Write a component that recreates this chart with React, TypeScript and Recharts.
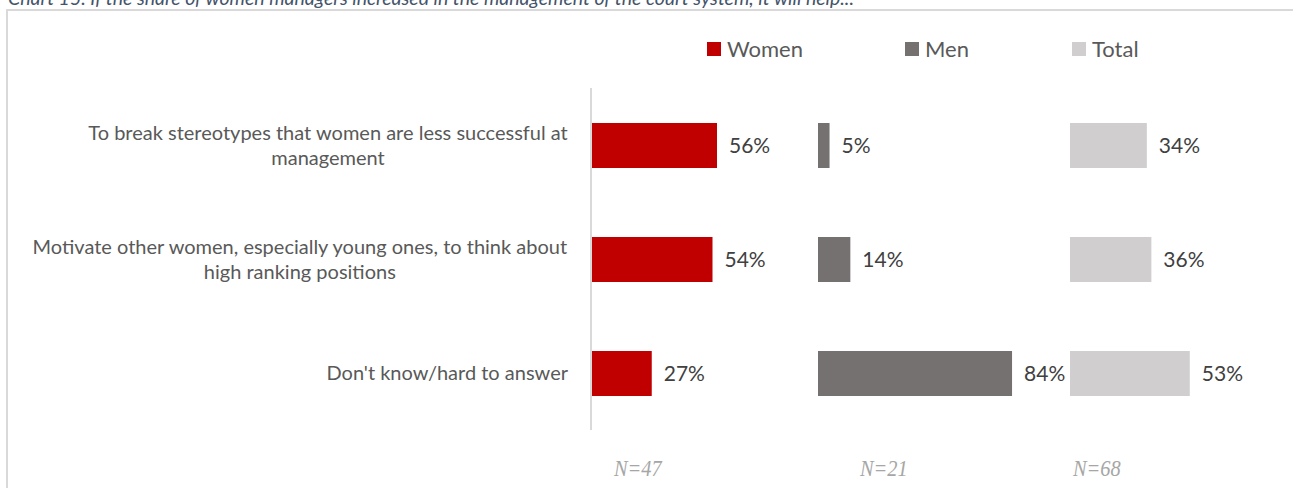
import { Bar, BarChart, LabelList, XAxis, YAxis } from 'recharts';

const W = 1293;
const H = 488;

// categories, wrapped the way the original labels wrap
const categories = [
  'To break stereotypes that women are less successful at\nmanagement',
  'Motivate other women, especially young ones, to think about\nhigh ranking positions',
  "Don't know/hard to answer",
];
const women = [56, 54, 27];
const men = [5, 14, 84];
const total = [34, 36, 53];
const seriesNames = ['Women', 'Men', 'Total'];
const sampleSizes = ['N=47', 'N=21', 'N=68'];

const COLORS = ['#C00000', '#767171', '#D0CECE'];

const rows = categories.map((label, i) => ({
  label,
  women: women[i],
  men: men[i],
  total: total[i],
}));

const LABEL_FONT_SIZE = 20;
let ctx: CanvasRenderingContext2D | null = null;
function textWidth(s: string) {
  if (!ctx) ctx = document.createElement('canvas').getContext('2d');
  if (!ctx) return s.length * 9;
  ctx.font = `${LABEL_FONT_SIZE}px Lato`;
  return ctx.measureText(s).width;
}

// multi-line label: longest line right aligned, others centred under it
function CategoryTick(props: any) {
  const { x, y, payload } = props;
  const lines = String(payload.value).split('\n');
  const w = Math.max(...lines.map(textWidth));
  const cx = x - w / 2;
  const lh = 25;
  const y0 = y - ((lines.length - 1) * lh) / 2;
  return (
    <text textAnchor="middle" fill="#595959" fontFamily="Lato" fontSize={LABEL_FONT_SIZE}>
      {lines.map((l, i) => (
        <tspan key={i} x={cx} y={y0 + i * lh} dy="0.35em">
          {l}
        </tspan>
      ))}
    </text>
  );
}

type PanelProps = {
  dataKey: string;
  color: string;
  left: number;
  span: number;
  showAxis?: boolean;
};

function Panel({ dataKey, color, left, span, showAxis }: PanelProps) {
  return (
    <div style={{ position: 'absolute', left: 0, top: 0 }}>
      <BarChart
        width={W}
        height={H}
        data={rows}
        layout="vertical"
        margin={{ top: 88, bottom: 58, left: showAxis ? 0 : left, right: W - left - span }}
        barSize={45}
      >
        <XAxis type="number" domain={[0, 100]} hide />
        <YAxis
          type="category"
          dataKey="label"
          hide={!showAxis}
          width={left}
          axisLine={{ stroke: '#D9D9D9', strokeWidth: 2 }}
          tickLine={false}
          tickMargin={17}
          tick={<CategoryTick />}
          interval={0}
        />
        <Bar dataKey={dataKey} fill={color} isAnimationActive={false}>
          <LabelList
            dataKey={dataKey}
            position="right"
            offset={12}
            formatter={(v: any) => `${v}%`}
            fill="#404040"
            fontSize={21}
            fontFamily="Lato"
          />
        </Bar>
      </BarChart>
    </div>
  );
}

const legendX = [707, 905, 1072];
const sampleX = [614, 860, 1073];

export default function App() {
  return (
    <div
      style={{
        position: 'absolute',
        left: 0,
        top: 0,
        width: W,
        height: H,
        overflow: 'hidden',
        background: '#fff',
        fontFamily: 'Lato',
      }}
    >
      <div
        style={{
          position: 'absolute',
          left: 8,
          top: -12,
          fontSize: 19.5,
          lineHeight: '19px',
          fontStyle: 'italic',
          color: '#44546A',
          whiteSpace: 'nowrap',
        }}
      >
        Chart 15. If the share of women managers increased in the management of the court system, it will help...
      </div>
      <div
        style={{
          position: 'absolute',
          left: 6,
          top: 9,
          width: 1400,
          height: 600,
          border: '2px solid #D9D9D9',
        }}
      />
      {seriesNames.map((name, i) => (
        <div
          key={name}
          style={{
            position: 'absolute',
            left: legendX[i],
            top: 36,
            display: 'flex',
            alignItems: 'center',
            fontSize: 22,
            lineHeight: '26px',
            color: '#595959',
          }}
        >
          <span style={{ width: 14, height: 14, background: COLORS[i], marginRight: 6 }} />
          {name}
        </div>
      ))}
      <Panel dataKey="women" color={COLORS[0]} left={591} span={225} showAxis />
      <Panel dataKey="men" color={COLORS[1]} left={818} span={231} />
      <Panel dataKey="total" color={COLORS[2]} left={1070} span={226} />
      {sampleSizes.map((n, i) => (
        <div
          key={n}
          style={{
            position: 'absolute',
            left: sampleX[i],
            top: 454,
            fontFamily: 'Liberation Serif',
            fontStyle: 'italic',
            fontSize: 24,
            lineHeight: '28px',
            color: '#A6A6A6',
            transform: 'scaleX(0.85)',
            transformOrigin: 'left',
          }}
        >
          {n}
        </div>
      ))}
    </div>
  );
}
